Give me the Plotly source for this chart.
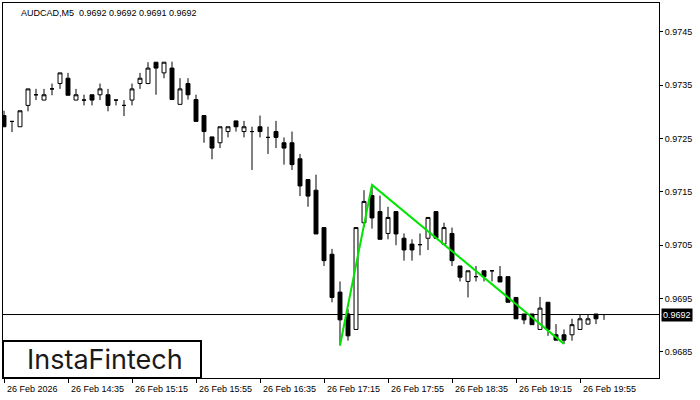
import plotly.graph_objects as go

# ---- data (AUDCAD M5) ----
bar_index = list(range(76))
opens = [0.97293, 0.97282, 0.97272, 0.97312, 0.97332, 0.97322, 0.97343, 0.97353, 0.97363, 0.97322,
         0.97322, 0.97332, 0.97332, 0.97332, 0.97322, 0.97312, 0.97322, 0.97353, 0.97353, 0.97393,
         0.97373, 0.97382, 0.97314, 0.97353, 0.97323, 0.97293, 0.97253, 0.97242, 0.97263, 0.97283,
         0.97263, 0.97263, 0.97272, 0.97252, 0.97263, 0.97242, 0.97242, 0.97212, 0.97173, 0.97153,
         0.97083, 0.97033, 0.96962, 0.96921, 0.96892, 0.97092, 0.97143, 0.97113, 0.97072, 0.97113,
         0.97063, 0.97052, 0.97051, 0.97063, 0.97113, 0.97052, 0.97072, 0.97011, 0.96982, 0.96991,
         0.97002, 0.97002, 0.96991, 0.96991, 0.96952, 0.96921, 0.96921, 0.96892, 0.96943, 0.96882,
         0.96882, 0.96882, 0.96892, 0.96902, 0.96921, 0.96920]
highs = [0.97302, 0.97282, 0.97302, 0.97343, 0.97343, 0.97343, 0.97353, 0.97373, 0.97373, 0.97343,
         0.97332, 0.97332, 0.97353, 0.97343, 0.97322, 0.97322, 0.97353, 0.97373, 0.97393, 0.97393,
         0.97393, 0.97394, 0.97363, 0.97363, 0.97332, 0.97293, 0.97253, 0.97272, 0.97272, 0.97283,
         0.97283, 0.97272, 0.97293, 0.97272, 0.97283, 0.97252, 0.97263, 0.97221, 0.97173, 0.97182,
         0.97083, 0.97043, 0.96982, 0.96930, 0.97083, 0.97153, 0.97163, 0.97143, 0.97122, 0.97113,
         0.97072, 0.97061, 0.97072, 0.97102, 0.97113, 0.97092, 0.97083, 0.97011, 0.97002, 0.97011,
         0.97002, 0.97002, 0.97011, 0.96991, 0.96952, 0.96921, 0.96921, 0.96953, 0.96943, 0.96902,
         0.96892, 0.96912, 0.96921, 0.96921, 0.96921, 0.96920]
lows = [0.97272, 0.97262, 0.97272, 0.97301, 0.97322, 0.97322, 0.97331, 0.97343, 0.97331, 0.97322,
        0.97312, 0.97312, 0.97322, 0.97301, 0.97312, 0.97292, 0.97312, 0.97343, 0.97353, 0.97332,
        0.97363, 0.97323, 0.97314, 0.97323, 0.97282, 0.97242, 0.97211, 0.97232, 0.97252, 0.97263,
        0.97252, 0.97191, 0.97252, 0.97221, 0.97232, 0.97201, 0.97191, 0.97142, 0.97122, 0.97071,
        0.97011, 0.96943, 0.96862, 0.96871, 0.96892, 0.97084, 0.97081, 0.97061, 0.97061, 0.97050,
        0.97021, 0.97021, 0.97031, 0.97041, 0.97063, 0.97052, 0.97011, 0.96982, 0.96952, 0.96982,
        0.96982, 0.96982, 0.96981, 0.96943, 0.96912, 0.96902, 0.96901, 0.96892, 0.96880, 0.96872,
        0.96865, 0.96871, 0.96892, 0.96902, 0.96902, 0.96910]
closes = [0.97272, 0.97282, 0.97302, 0.97343, 0.97332, 0.97332, 0.97343, 0.97373, 0.97331, 0.97332,
          0.97322, 0.97322, 0.97343, 0.97312, 0.97322, 0.97312, 0.97343, 0.97363, 0.97382, 0.97382,
          0.97393, 0.97323, 0.97343, 0.97332, 0.97282, 0.97263, 0.97232, 0.97272, 0.97272, 0.97272,
          0.97272, 0.97263, 0.97263, 0.97252, 0.97252, 0.97232, 0.97201, 0.97161, 0.97142, 0.97071,
          0.97021, 0.96952, 0.96910, 0.96880, 0.97083, 0.97132, 0.97101, 0.97061, 0.97102, 0.97071,
          0.97041, 0.97041, 0.97051, 0.97102, 0.97063, 0.97083, 0.97021, 0.96990, 0.97002, 0.96991,
          0.96991, 0.97002, 0.96981, 0.96943, 0.96912, 0.96910, 0.96901, 0.96932, 0.96892, 0.96872,
          0.96872, 0.96901, 0.96912, 0.96912, 0.96912, 0.96920]

# pattern line (double top pivots)
pattern_idx = [42, 46, 70]
pattern_price = [0.96862, 0.97163, 0.96865]

current_price = 0.9692
x_tick_idx = [0, 8, 16, 24, 32, 40, 48, 56, 64, 72]
x_tick_text = ["26 Feb 2026", "26 Feb 14:35", "26 Feb 15:15", "26 Feb 15:55", "26 Feb 16:35",
               "26 Feb 17:15", "26 Feb 17:55", "26 Feb 18:35", "26 Feb 19:15", "26 Feb 19:55"]
y_ticks = [0.9685, 0.9695, 0.9705, 0.9715, 0.9725, 0.9735, 0.9745]
title_text = "AUDCAD,M5  0.9692 0.9692 0.9691 0.9692"

FONT = "Liberation Sans"

fig = go.Figure()
fig.add_trace(go.Candlestick(
    x=bar_index, open=opens, high=highs, low=lows, close=closes,
    increasing=dict(line=dict(color="black", width=1), fillcolor="white"),
    decreasing=dict(line=dict(color="black", width=1), fillcolor="black"),
    whiskerwidth=0, showlegend=False, hoverinfo="skip",
))
fig.add_trace(go.Scatter(
    x=pattern_idx, y=pattern_price, mode="lines",
    line=dict(color="#00e600", width=2), showlegend=False, hoverinfo="skip",
))

fig.add_shape(type="line", xref="paper", x0=0, x1=1, yref="y", y0=current_price, y1=current_price,
              line=dict(color="black", width=1), layer="below")

# logo box
fig.add_shape(type="rect", xref="paper", yref="paper", x0=0, x1=198 / 656, y0=0, y1=37 / 375,
              line=dict(color="black", width=2), fillcolor="white", layer="above")
fig.add_annotation(text="InstaFintech", xref="paper", yref="paper", x=102 / 656, y=18.5 / 375,
                   xanchor="center", yanchor="middle", showarrow=False,
                   font=dict(family="Inter", size=27, color="#1a1a1a"))

# title
fig.add_annotation(text=title_text, xref="paper", yref="paper", x=16 / 656, y=1, yshift=-3,
                   xanchor="left", yanchor="top", showarrow=False,
                   font=dict(family=FONT, size=9, color="black"))

# x labels (left aligned to tick)
for xi, txt in zip(x_tick_idx, x_tick_text):
    fig.add_annotation(text=txt, x=xi, xref="x", y=0, yref="paper", yshift=-4,
                       xanchor="left", yanchor="top", xshift=1, showarrow=False,
                       font=dict(family=FONT, size=9, color="black"))

# current price label
fig.add_annotation(text=f"{current_price:.4f}", xref="paper", x=1, xshift=2, yref="y", y=current_price,
                   xanchor="left", yanchor="middle", showarrow=False, bgcolor="black",
                   borderpad=1, font=dict(family=FONT, size=9, color="white"))

fig.update_layout(
    width=700, height=400,
    margin=dict(l=3, r=41, t=3, b=22),
    paper_bgcolor="white", plot_bgcolor="white",
    xaxis=dict(range=[-0.125, 81.875], rangeslider=dict(visible=False), showgrid=False,
               zeroline=False, showline=True, mirror=True, linecolor="black", linewidth=1,
               tickmode="array", tickvals=x_tick_idx, ticktext=[""] * len(x_tick_idx),
               ticks="outside", ticklen=4, tickcolor="black"),
    yaxis=dict(range=[0.96801, 0.97504], side="right", showgrid=False, zeroline=False,
               showline=True, mirror=True, linecolor="black", linewidth=1,
               tickmode="array", tickvals=y_ticks, ticktext=[f"{v:.4f}" for v in y_ticks],
               ticks="outside", ticklen=3, tickcolor="black",
               tickfont=dict(family=FONT, size=9, color="black")),
    font=dict(family=FONT, size=9, color="black"),
)

fig.write_html("out.html", config={"displayModeBar": False},
               post_script="document.body.style.margin='0';")
